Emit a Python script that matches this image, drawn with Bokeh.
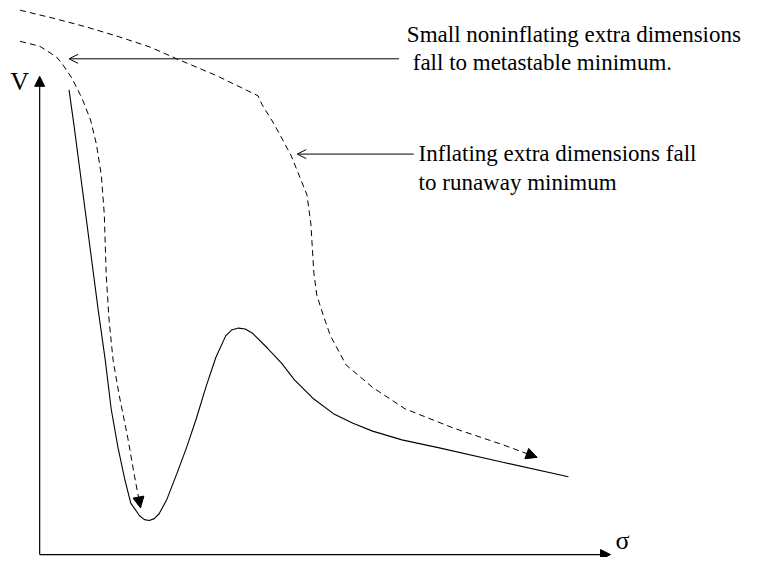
from bokeh.plotting import figure
from bokeh.models import Range1d, Arrow, NormalHead, OpenHead, Label
from bokeh.embed import file_html
from bokeh.resources import INLINE

# Potential V(sigma), schematic units (origin at the axes' corner)
pot_sigma = [30, 35, 47, 60, 67, 73, 80, 87, 93, 102, 107, 112, 117, 122, 130, 140,
             150, 160, 170, 180, 190, 196, 203, 210, 217, 233, 247, 260, 280, 300,
             320, 340, 370, 407, 473, 540]
pot_V = [478, 442, 350, 250, 200, 150, 110, 77, 53, 40, 36, 35, 37, 42, 57, 83,
         110, 140, 173, 203, 225, 231, 233, 232, 228, 212, 197, 180, 160, 145,
         135, 127, 118, 110, 95, 80]

# Path of small noninflating extra dimensions (falls to metastable minimum)
meta_sigma = [-20, 0, 17, 23, 33, 43, 52, 58, 63, 66, 68, 71, 75, 81, 90, 97, 103]
meta_V = [528, 523, 512, 505, 490, 470, 447, 422, 390, 350, 287, 240, 200, 165, 120, 80, 48]

# Path of inflating extra dimensions (falls to runaway minimum)
run_sigma = [-20, 13, 47, 80, 113, 140, 180, 223, 227, 240, 257, 273, 277, 280,
             283, 290, 297, 313, 340, 373, 423, 473, 508]
run_V = [560, 552, 543, 533, 522, 510, 493, 472, 463, 442, 410, 370, 340, 290,
         267, 245, 225, 195, 172, 150, 130, 113, 100]

# Axes extents
axis_sigma_max = 583
axis_V_max = 492

# Annotations: (text, sigma, V of baseline)
labels = [
    ("Small noninflating extra dimensions", 375, 535),
    ("fall to metastable minimum.", 381, 506),
    ("Inflating extra dimensions fall", 387, 413),
    ("to runaway minimum", 387, 383),
]
pointers = [  # (sigma_start, V_start, sigma_end, V_end)
    (367, 510, 30, 510),
    (382, 412, 263, 412),
]

FONT = "Liberation Serif"

p = figure(width=752, height=557, output_backend="svg", toolbar_location=None,
           x_range=Range1d(-40, 728), y_range=Range1d(-3, 570),
           min_border=0, min_border_left=0, min_border_right=0,
           min_border_top=0, min_border_bottom=0)
p.axis.visible = False
p.xgrid.visible = False
p.ygrid.visible = False
p.outline_line_color = None
p.background_fill_color = "white"
p.border_fill_color = "white"

# potential curve
p.line(pot_sigma, pot_V, line_color="black", line_width=1.1, line_join="round")

# dashed trajectories
p.line(meta_sigma, meta_V, line_color="black", line_width=1, line_dash="6 4")
p.line(run_sigma, run_V, line_color="black", line_width=1, line_dash="6 4")

# arrowheads on dashed trajectories
for xs, ys in ((meta_sigma, meta_V), (run_sigma, run_V)):
    p.add_layout(Arrow(end=NormalHead(size=11, fill_color="black", line_color="black", line_width=1),
                       x_start=xs[-2], y_start=ys[-2], x_end=xs[-1], y_end=ys[-1],
                       line_alpha=0))

# coordinate axes
p.add_layout(Arrow(end=NormalHead(size=10, fill_color="black", line_color="black"),
                   x_start=0, y_start=0, x_end=0, y_end=axis_V_max,
                   line_color="black", line_width=1.2))
p.add_layout(Arrow(end=NormalHead(size=10, fill_color="black", line_color="black"),
                   x_start=0, y_start=0, x_end=axis_sigma_max, y_end=0,
                   line_color="black", line_width=1.2))

# pointer arrows
for xs, ys, xe, ye in pointers:
    p.add_layout(Arrow(end=OpenHead(size=9, line_color="black", line_width=1),
                       x_start=xs, y_start=ys, x_end=xe, y_end=ye,
                       line_color="black", line_width=1))

for txt, x, y in labels:
    p.add_layout(Label(x=x, y=y, text=txt, text_font=FONT, text_font_size="23px",
                       text_color="black", text_baseline="alphabetic"))

p.add_layout(Label(x=-30, y=487, text="V", text_font=FONT, text_font_size="26px",
                   text_color="black", text_baseline="alphabetic"))
p.add_layout(Label(x=588, y=15, text="σ", text_font=FONT, text_font_size="26px",
                   text_color="black", text_baseline="alphabetic"))

open("out.html", "w").write(file_html(p, INLINE))
